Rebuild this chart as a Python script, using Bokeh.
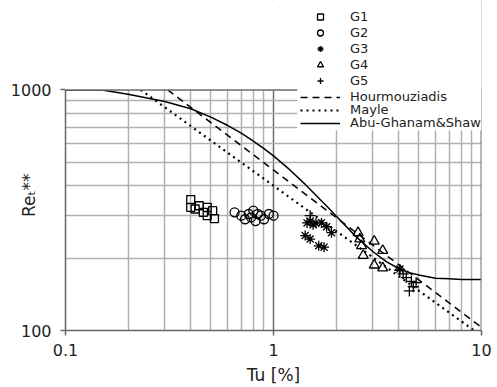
from bokeh.plotting import figure
from bokeh.models import (Range1d, FixedTicker, NumeralTickFormatter, Legend, LegendItem,
                          BoxAnnotation, Span)
from bokeh.embed import file_html
from bokeh.resources import INLINE

# ---- tick values ----
x_major = [0.1, 1, 10]
x_minor = [0.2, 0.3, 0.4, 0.5, 0.6, 0.7, 0.8, 0.9, 2, 3, 4, 5, 6, 7, 8, 9]
y_major = [100, 1000]
y_minor = [200, 300, 400, 500, 600, 700, 800, 900]

# ---- measured groups ----
g1_tu = [0.40, 0.40, 0.42, 0.44, 0.46, 0.48, 0.51, 0.52, 0.48]
g1_re = [350, 325, 320, 330, 310, 325, 315, 292, 300]

g2_tu = [0.65, 0.70, 0.73, 0.76, 0.78, 0.80, 0.82, 0.84, 0.87, 0.90, 0.95, 1.00]
g2_re = [310, 300, 290, 305, 295, 315, 285, 305, 300, 290, 305, 300]

g3_tu = [1.45, 1.50, 1.55, 1.60, 1.70, 1.80, 1.90, 1.42, 1.50, 1.65, 1.75, 4.05]
g3_re = [280, 285, 275, 280, 280, 270, 255, 248, 240, 225, 222, 180]

g4_tu = [2.55, 2.60, 2.65, 3.05, 3.35, 2.70, 3.05, 3.35]
g4_re = [255, 240, 225, 235, 215, 205, 187, 182]

g5_tu = [1.50, 4.05, 4.20, 4.35, 4.60, 4.70, 4.50, 4.85]
g5_re = [300, 178, 172, 166, 160, 152, 146, 158]

# ---- correlations ----
hour_tu = [0.31, 10.0]
hour_re = [1000, 103]

mayle_tu = [0.23, 10.0]
mayle_re = [1000, 95]

ags_tu = [0.10, 0.15, 0.2, 0.3, 0.4, 0.5, 0.6, 0.7, 0.8, 0.9, 1.0, 1.2, 1.4, 1.6, 1.8,
          2.0, 2.5, 3.0, 3.5, 4.0, 4.5, 5.0, 6.0, 7.0, 8.0, 10.0]
ags_re = [1000, 1000, 960, 895, 835, 771, 713, 661, 613, 570, 532, 465, 410, 365, 329,
          299, 245, 213, 193, 181, 174, 170, 165, 164, 163, 163]

FONT = "DejaVu Sans"
TXT = "#222222"
DARK = "#707070"

# the frame reaches the top of the canvas so the legend (which sits above the
# 1000 line in the original) can be drawn inside it; the area above 1000 is blanked
Y_TOP = 2354
p = figure(width=497, height=387, x_axis_type="log", y_axis_type="log",
           x_range=Range1d(0.1, 10), y_range=Range1d(100, Y_TOP),
           output_backend="svg", toolbar_location=None,
           min_border_left=65, min_border_right=16, min_border_top=0, min_border_bottom=55)
p.background_fill_color = "white"
p.border_fill_color = "white"
p.outline_line_color = None

xt = FixedTicker(ticks=x_major, minor_ticks=x_minor)
yt = FixedTicker(ticks=y_major, minor_ticks=y_minor)
p.xaxis.ticker = xt
p.xgrid.ticker = xt
p.yaxis.ticker = yt
p.ygrid.ticker = yt
p.yaxis.bounds = (100, 1000)

for g in (p.xgrid, p.ygrid):
    g.grid_line_color = DARK
    g.grid_line_width = 1.5
    g.minor_grid_line_color = "#b0b0b0"
    g.minor_grid_line_width = 1.5

for ax in (p.xaxis, p.yaxis):
    ax.axis_line_color = "#666666"
    ax.axis_line_width = 1.5
    ax.major_tick_line_color = "#666666"
    ax.major_tick_line_width = 1.5
    ax.major_tick_in = 0
    ax.major_tick_out = 5
    ax.minor_tick_line_color = None
    ax.major_label_text_font = FONT
    ax.major_label_text_font_size = "16px"
    ax.major_label_text_color = TXT
    ax.axis_label_text_font = FONT
    ax.axis_label_text_font_style = "normal"
    ax.axis_label_text_font_size = "17px"
    ax.axis_label_text_color = TXT

p.xaxis.formatter = NumeralTickFormatter(format="0.[0]")
p.yaxis.formatter = NumeralTickFormatter(format="0")
p.xaxis.major_label_standoff = 8
p.yaxis.major_label_standoff = 9
p.xaxis.axis_label = "Tu [%]"
p.xaxis.axis_label_standoff = 6
# en spaces at the end push the visible label down to where the original has it
p.yaxis.axis_label = "Reₜ**" + "\u2002" * 7
p.yaxis.axis_label_standoff = -31

# right border and blanking above the 1000 line
p.add_layout(Span(location=10, dimension="height", line_color=DARK, line_width=2))
p.add_layout(BoxAnnotation(bottom=1000, fill_color="white", fill_alpha=1.0, line_color=None))
p.add_layout(Span(location=1000, dimension="width", line_color=DARK, line_width=1.5))

# correlation lines
r_h = p.line(hour_tu, hour_re, line_color="black", line_width=1.5, line_dash="7 5")
r_m = p.line(mayle_tu, mayle_re, line_color="black", line_width=2.2, line_dash="2 4")
r_a = p.line(ags_tu, ags_re, line_color="black", line_width=1.5)

# markers
mk = dict(line_color="black", fill_color=None, line_width=1.3)
r1 = p.scatter(g1_tu, g1_re, marker="square", size=8, **mk)
r2 = p.scatter(g2_tu, g2_re, marker="circle", size=9, **mk)
r3 = p.scatter(g3_tu, g3_re, marker="asterisk", size=10, **mk)
r4 = p.scatter(g4_tu, g4_re, marker="triangle", size=10, **mk)
r5 = p.scatter(g5_tu, g5_re, marker="cross", size=11, **mk)

# white legend background over the top-right corner of the grid
p.add_layout(BoxAnnotation(left=1.3, bottom=680, fill_color="white", fill_alpha=1.0,
                           line_color=None))

leg_style = dict(orientation="vertical", glyph_width=40, label_standoff=10,
                 padding=0, margin=0, border_line_color=None, background_fill_alpha=0,
                 label_text_font=FONT, label_text_font_size="13px", label_text_color=TXT)

top_leg = Legend(items=[
    LegendItem(label="G1", renderers=[r1]),
    LegendItem(label="G2", renderers=[r2]),
    LegendItem(label="G3", renderers=[r3]),
    LegendItem(label="G4", renderers=[r4]),
    LegendItem(label="G5", renderers=[r5]),
], location=(235, 242), glyph_height=15, label_height=15, spacing=1, **leg_style)
p.add_layout(top_leg)

for lab, rr, yb in (("Hourmouziadis", r_h, 226), ("Mayle", r_m, 213), ("Abu-Ghanam&Shaw", r_a, 200)):
    lg = Legend(items=[LegendItem(label=lab, renderers=[rr])], location=(235, yb),
                glyph_height=12, label_height=12, spacing=0, **leg_style)
    p.add_layout(lg)

open("out.html", "w").write(file_html(p, INLINE))
